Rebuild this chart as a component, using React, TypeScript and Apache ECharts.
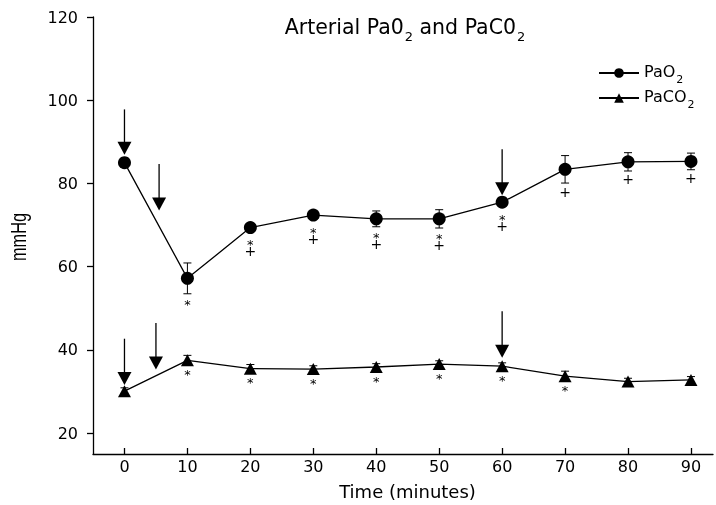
import React, { useEffect, useRef } from "react";
import * as echarts from "echarts";

const timeMinutes = [0, 10, 20, 30, 40, 50, 60, 70, 80, 90];
const pao2Mean = [85.0, 57.2, 69.4, 72.4, 71.5, 71.5, 75.5, 83.4, 85.2, 85.3];
const pao2Err = [0.8, 3.7, 1.0, 1.0, 1.9, 2.2, 1.0, 3.3, 2.2, 2.0];
const paco2Mean = [30.1, 37.5, 35.5, 35.4, 35.9, 36.6, 36.1, 33.7, 32.4, 32.8];
const paco2Err = [0.8, 1.2, 1.0, 0.8, 0.8, 0.8, 0.8, 1.2, 0.8, 0.8];
const pao2Marks = ["", "*", "*+", "*+", "*+", "*+", "*+", "+", "+", "+"];
const paco2Marks = ["", "*", "*", "*", "*", "*", "*", "*", "", ""];
// arrows: [time, tail value, tip value]
const pao2Arrows = [
  [0, 97.8, 86.9],
  [5.5, 84.7, 73.5],
  [60, 88.2, 77.2],
];
const paco2Arrows = [
  [0, 42.7, 31.6],
  [5, 46.5, 35.3],
  [60, 49.3, 38.1],
];
const xTicks = [0, 10, 20, 30, 40, 50, 60, 70, 80, 90];
const yTicks = [20, 40, 60, 80, 100, 120];

const FONT = "DejaVu Sans";

const errRender = (params: any, api: any) => {
  const x = api.value(0);
  const v = api.value(1);
  const e = api.value(2);
  const top = api.coord([x, v + e]);
  const bot = api.coord([x, v - e]);
  const hw = 4;
  const st = { stroke: "#000", lineWidth: 1 };
  return {
    type: "group",
    children: [
      { type: "line", shape: { x1: top[0], y1: top[1], x2: bot[0], y2: bot[1] }, style: st },
      { type: "line", shape: { x1: top[0] - hw, y1: top[1], x2: top[0] + hw, y2: top[1] }, style: st },
      { type: "line", shape: { x1: bot[0] - hw, y1: bot[1], x2: bot[0] + hw, y2: bot[1] }, style: st },
    ],
  };
};

const makeMarkRender = (marks: string[], half: number, starGap: number) => (params: any, api: any) => {
  const s = marks[params.dataIndex];
  if (!s) return { type: "group", children: [] };
  const x = api.value(0);
  const v = api.value(1);
  const e = api.value(2);
  const c = api.coord([x, v]);
  const b = api.coord([x, v - e]);
  let y = Math.max(c[1] + half, b[1]);
  const children: any[] = [];
  const hasStar = s.indexOf("*") >= 0;
  if (hasStar) {
    y += starGap;
    children.push({
      type: "text",
      x: c[0],
      y: y + 2.8,
      style: { text: "*", fontSize: 13, fontFamily: FONT, fill: "#000", stroke: "none", align: "center", verticalAlign: "middle" },
    });
  }
  if (s.indexOf("+") >= 0) {
    y += hasStar ? 9.5 : 8.5;
    children.push({
      type: "text",
      x: c[0],
      y: y,
      style: { text: "+", fontSize: 14, fontFamily: FONT, fill: "#000", stroke: "none", align: "center", verticalAlign: "middle" },
    });
  }
  return { type: "group", children };
};

const arrowRender = (params: any, api: any) => {
  const x = api.value(0);
  const a = api.coord([x, api.value(1)]);
  const b = api.coord([x, api.value(2)]);
  const headH = 13;
  const headW = 7;
  return {
    type: "group",
    children: [
      { type: "line", shape: { x1: a[0], y1: a[1], x2: b[0], y2: b[1] - headH + 1 }, style: { stroke: "#000", lineWidth: 1.3 } },
      {
        type: "polygon",
        shape: { points: [[b[0] - headW, b[1] - headH], [b[0] + headW, b[1] - headH], [b[0], b[1]]] },
        style: { fill: "#000" },
      },
    ],
  };
};

export default function App() {
  const ref = useRef<HTMLDivElement>(null);
  useEffect(() => {
    if (!ref.current) return;
    const chart = echarts.init(ref.current, null, { renderer: "svg" });
    const pao2Data = timeMinutes.map((t, i) => [t, pao2Mean[i]]);
    const paco2Data = timeMinutes.map((t, i) => [t, paco2Mean[i]]);
    const pao2ErrData = timeMinutes.map((t, i) => [t, pao2Mean[i], pao2Err[i]]);
    const paco2ErrData = timeMinutes.map((t, i) => [t, paco2Mean[i], paco2Err[i]]);
    const richLegend = {
      a: { fontSize: 16, fontFamily: FONT, color: "#000", lineHeight: 20, verticalAlign: "top" },
      s: { fontSize: 11, fontFamily: FONT, color: "#000", lineHeight: 12, padding: [11, 0, 0, 1], verticalAlign: "top" },
    };
    const black = { color: "#000" };
    chart.setOption({
      animation: false,
      color: ["#000"],
      backgroundColor: "#fff",
      grid: { left: 93, right: 3, top: 17, bottom: 48 },
      legend: {
        orient: "vertical",
        left: 593,
        top: 58,
        itemWidth: 40,
        itemHeight: 12,
        itemGap: 3,
        data: ["PaO2", "PaCO2"],
        formatter: (n: string) => (n === "PaO2" ? "{a|PaO}{s|2}" : "{a|PaCO}{s|2}"),
        textStyle: { rich: richLegend },
      },
      graphic: [
        {
          type: "text",
          x: 405,
          y: 28,
          style: {
            text: "{a|Arterial Pa0}{s|2}{a| and PaC0}{s|2}",
            align: "center",
            verticalAlign: "middle",
            fill: "#000",
            rich: {
              a: { fontSize: 20.5, fontFamily: FONT, fill: "#000", lineHeight: 24, verticalAlign: "top" },
              s: { fontSize: 13, fontFamily: FONT, fill: "#000", lineHeight: 14, padding: [14, 0, 0, 1], verticalAlign: "top" },
            },
          },
        },
        {
          type: "text",
          x: 18,
          y: 237,
          rotation: Math.PI / 2,
          scaleX: 0.74,
          style: {
            text: "mmHg",
            fontSize: 22,
            fontFamily: "Liberation Sans",
            fill: "#000",
            align: "center",
            verticalAlign: "middle",
          },
        },
      ],
      xAxis: {
        type: "value",
        min: -5,
        max: 93.5,
        name: "Time (minutes)",
        nameLocation: "middle",
        nameGap: 28,
        nameTextStyle: { fontSize: 18, fontFamily: FONT, color: "#000", padding: [0, 0, 0, 9] },
        axisLine: { show: true, onZero: false, lineStyle: { color: "#000", width: 1.3 } },
        axisTick: { show: true, inside: true, length: 6, customValues: xTicks, lineStyle: { color: "#000", width: 1.3 } },
        axisLabel: { customValues: xTicks, margin: 4, fontSize: 16, fontFamily: FONT, color: "#000" },
        splitLine: { show: false },
      },
      yAxis: {
        type: "value",
        min: 15,
        max: 120,
        axisLine: { show: true, onZero: false, lineStyle: { color: "#000", width: 1.3 } },
        axisTick: { show: true, length: 6, customValues: yTicks, lineStyle: { color: "#000", width: 1.3 } },
        axisLabel: { customValues: yTicks, margin: 15, fontSize: 16, fontFamily: FONT, color: "#000" },
        splitLine: { show: false },
      },
      series: [
        {
          name: "pao2err",
          type: "custom",
          renderItem: errRender,
          data: pao2ErrData,
          encode: { x: 0, y: [1, 2] },
          itemStyle: black,
          z: 1,
        },
        {
          name: "paco2err",
          type: "custom",
          renderItem: errRender,
          data: paco2ErrData,
          encode: { x: 0, y: [1, 2] },
          itemStyle: black,
          z: 1,
        },
        {
          name: "PaO2",
          type: "line",
          data: pao2Data,
          symbol: "circle",
          symbolSize: 13,
          itemStyle: black,
          lineStyle: { color: "#000", width: 1.3 },
          z: 3,
        },
        {
          name: "PaCO2",
          type: "line",
          data: paco2Data,
          symbol: "triangle",
          symbolSize: [13, 12],
          itemStyle: black,
          lineStyle: { color: "#000", width: 1.3 },
          z: 3,
        },
        {
          name: "pao2marks",
          type: "custom",
          renderItem: makeMarkRender(pao2Marks, 6.5, 7.7),
          data: pao2ErrData,
          encode: { x: 0, y: 1 },
          itemStyle: black,
          z: 4,
        },
        {
          name: "paco2marks",
          type: "custom",
          renderItem: makeMarkRender(paco2Marks, 5, 6.5),
          data: paco2ErrData,
          encode: { x: 0, y: 1 },
          itemStyle: black,
          z: 4,
        },
        {
          name: "pao2arrows",
          type: "custom",
          renderItem: arrowRender,
          data: pao2Arrows,
          encode: { x: 0, y: [1, 2] },
          itemStyle: black,
          z: 5,
        },
        {
          name: "paco2arrows",
          type: "custom",
          renderItem: arrowRender,
          data: paco2Arrows,
          encode: { x: 0, y: [1, 2] },
          itemStyle: black,
          z: 5,
        },
      ],
    });
    return () => chart.dispose();
  }, []);
  return (
    <div
      ref={ref}
      style={{ width: 716, height: 505, position: "absolute", left: 0, top: 0, filter: "grayscale(1)" }}
    />
  );
}
